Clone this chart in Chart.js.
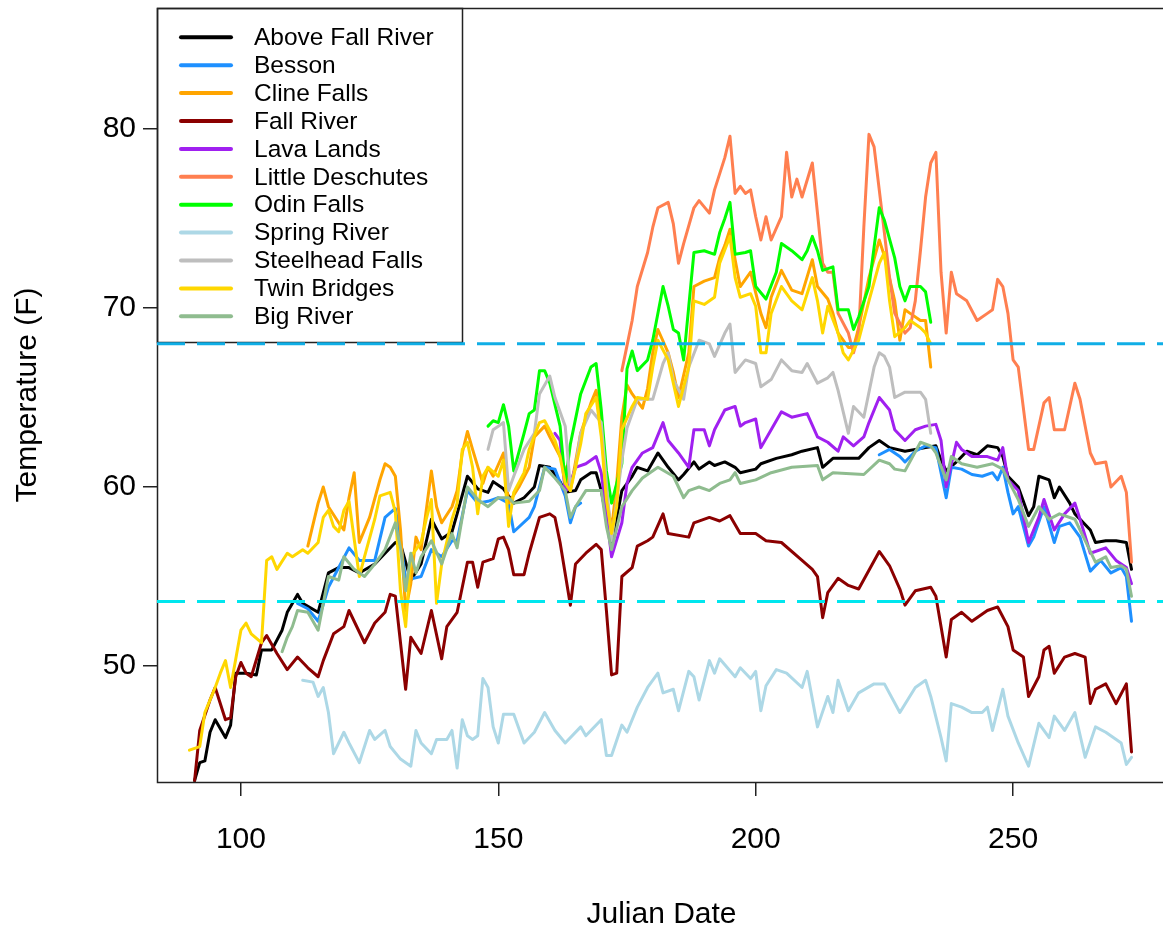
<!DOCTYPE html>
<html>
<head>
<meta charset="utf-8">
<title>Water temperature by site</title>
<script src="https://cdn.jsdelivr.net/npm/chart.js@4.4.1/dist/chart.umd.min.js"></script>
<style>
  html, body { margin: 0; padding: 0; background: #fff; overflow: hidden; }
  canvas { display: block; }
</style>
</head>
<body>
<canvas id="tempChart" width="1166" height="930"></canvas>
<script>
// daily water temperature (F) at each site, [julian day, temp]
const aboveFallRiver = [[91,43.6],[92,44.6],[93,44.7],[94,46.3],[95,47.0],[97,46.0],[98,46.7],[99,49.6],[101,49.6],[103,49.5],[104,50.9],[106,50.9],[108,52.0],[109,53.0],[111,54.0],[112,53.5],[115,53.0],[117,55.2],[119,55.5],[121,55.5],[123,55.2],[126,55.7],[128,56.3],[130,56.9],[131,56.8],[133,54.8],[135,55.7],[137,58.2],[139,57.1],[141,57.5],[142,58.5],[144,60.6],[146,59.9],[148,59.7],[149,60.3],[151,59.9],[153,59.1],[155,59.4],[157,60.0],[158,61.2],[160,61.1],[162,60.3],[163,59.7],[165,59.8],[166,60.4],[168,60.8],[169,60.8],[170,59.8],[172,56.7],[174,59.8],[176,60.6],[177,61.1],[179,60.9],[181,61.9],[183,61.1],[185,60.4],[186,60.7],[188,61.4],[189,61.0],[191,61.4],[192,61.2],[194,61.4],[196,61.1],[197,60.8],[200,61.0],[201,61.3],[204,61.6],[207,61.8],[209,62.0],[212,62.2],[213,61.1],[215,61.6],[218,61.6],[220,61.6],[222,62.2],[224,62.6],[226,62.2],[229,62.0],[233,62.2],[235,62.3],[236,61.5],[237,60.9],[239,61.4],[241,62.0],[243,61.8],[245,62.3],[247,62.2],[248,61.7],[249,60.6],[251,60.0],[253,58.4],[254,58.9],[255,60.6],[257,60.4],[258,59.4],[259,60.0],[261,59.1],[262,58.5],[265,57.6],[266,56.9],[268,57.0],[270,57.0],[272,56.9],[273,55.4]];

// Besson logger was out between mid-June and mid-August
const besson = [[111,53.5],[113,53.2],[115,52.5],[117,54.4],[119,55.5],[121,56.6],[123,55.9],[126,55.9],[128,58.3],[130,58.8],[131,57.0],[132,54.8],[135,55.0],[137,56.5],[139,56.1],[141,57.0],[142,57.0],[144,59.8],[146,59.1],[148,59.2],[150,59.4],[152,59.1],[153,57.5],[156,58.3],[157,58.9],[159,61.1],[161,61.0],[163,59.5],[164,58.0],[165,58.9],[166,59.1],[195,null],[224,61.8],[226,62.1],[228,61.7],[229,61.4],[231,62.0],[233,62.3],[235,62.2],[237,59.4],[238,61.1],[240,61.0],[242,60.7],[244,60.6],[246,60.8],[247,60.4],[248,61.1],[249,59.7],[250,58.5],[251,58.9],[253,56.7],[254,57.2],[256,58.9],[258,56.9],[259,57.8],[261,58.0],[263,57.2],[265,55.3],[267,55.9],[269,55.2],[271,55.5],[272,55.0],[273,52.5]];

const clineFalls = [[113,56.7],[115,59.1],[116,60.0],[117,58.9],[119,58.0],[120,57.6],[121,59.4],[122,60.8],[123,56.9],[125,58.3],[127,60.4],[128,61.3],[129,61.1],[130,60.6],[131,57.6],[132,53.1],[133,54.6],[134,57.2],[135,56.5],[137,60.9],[138,58.9],[139,58.0],[141,58.9],[142,59.8],[143,61.9],[144,63.1],[145,62.1],[147,60.2],[148,61.1],[149,60.6],[151,61.9],[152,59.1],[154,60.0],[156,61.1],[157,62.8],[159,63.4],[160,62.8],[162,61.7],[163,61.0],[164,59.8],[166,63.0],[168,64.7],[169,65.4],[170,63.5],[171,59.5],[172,57.6],[173,60.2],[174,63.9],[175,65.7],[176,65.2],[178,64.4],[179,65.5],[180,67.5],[181,68.8],[183,67.5],[184,66.4],[185,65.0],[187,67.5],[188,71.2],[190,71.5],[192,71.7],[193,72.8],[194,73.5],[195,74.4],[196,72.7],[197,71.2],[198,71.6],[199,72.0],[201,69.7],[202,68.9],[203,70.6],[205,72.1],[207,71.0],[209,70.8],[211,72.7],[212,71.2],[214,70.5],[215,69.7],[216,68.6],[218,67.8],[219,67.8],[220,68.9],[222,71.7],[224,73.8],[225,72.9],[227,70.4],[228,68.2],[229,69.9],[230,69.7],[232,69.3],[233,69.3],[234,66.7]];

const fallRiver = [[91,43.6],[92,46.4],[94,48.1],[95,48.8],[97,47.0],[98,47.1],[99,49.4],[100,50.2],[101,49.6],[102,49.4],[104,51.3],[105,51.7],[107,50.7],[109,49.8],[111,50.5],[113,49.9],[115,49.4],[116,50.3],[118,51.8],[120,52.2],[121,53.1],[124,51.3],[126,52.4],[128,53.0],[129,54.0],[130,53.9],[132,48.7],[133,51.6],[135,50.7],[137,53.1],[139,50.4],[140,52.2],[142,53.0],[144,55.8],[145,55.8],[146,54.4],[147,55.8],[149,56.0],[150,57.1],[151,57.2],[152,56.5],[153,55.1],[155,55.1],[156,56.3],[158,58.3],[160,58.5],[161,58.3],[162,56.9],[164,53.4],[165,55.7],[167,56.3],[169,56.8],[170,56.5],[171,53.1],[172,49.5],[173,49.6],[174,55.0],[176,55.5],[177,56.7],[179,57.0],[180,57.2],[182,58.5],[183,57.4],[187,57.2],[188,58.0],[191,58.3],[193,58.1],[195,58.4],[197,57.4],[200,57.4],[202,57.0],[205,56.9],[209,55.9],[211,55.4],[212,55.0],[213,52.7],[214,54.1],[216,54.9],[218,54.5],[220,54.3],[224,56.4],[226,55.6],[228,54.3],[229,53.4],[231,54.2],[234,54.4],[235,53.9],[237,50.5],[238,52.6],[240,53.0],[242,52.5],[245,53.1],[247,53.3],[249,52.2],[250,50.9],[252,50.5],[253,48.3],[255,49.4],[256,50.9],[257,51.1],[258,49.6],[260,50.5],[262,50.7],[264,50.5],[265,47.9],[266,48.7],[268,49.0],[270,47.9],[272,49.0],[273,45.2]];

const lavaLands = [[161,63.0],[162,62.6],[163,59.7],[164,60.2],[165,61.1],[167,61.3],[169,61.7],[170,60.8],[171,58.5],[172,56.1],[174,58.0],[175,60.2],[176,61.1],[178,61.9],[180,62.2],[182,63.6],[183,62.6],[185,61.9],[187,61.1],[188,63.2],[190,63.2],[191,62.3],[192,63.2],[194,64.3],[196,64.5],[197,63.4],[198,63.6],[200,63.8],[201,62.2],[203,63.2],[205,64.2],[207,63.9],[210,64.1],[212,62.8],[214,62.5],[216,62.0],[217,62.8],[219,62.3],[221,62.8],[222,63.6],[224,65.0],[226,64.3],[227,63.2],[229,62.6],[231,63.2],[233,63.4],[235,63.5],[236,62.6],[237,60.0],[239,62.5],[240,62.1],[242,61.7],[245,61.7],[247,61.5],[248,62.2],[249,60.4],[251,59.8],[253,56.9],[255,58.3],[256,59.3],[258,57.6],[260,58.5],[262,59.1],[263,58.2],[265,56.3],[268,56.6],[270,55.9],[272,55.5],[273,54.6]];

const littleDeschutes = [[174,66.5],[176,69.3],[177,71.2],[179,73.1],[180,74.5],[181,75.6],[183,75.9],[184,74.7],[185,72.5],[186,73.6],[188,75.6],[189,76.0],[191,75.3],[192,76.6],[194,78.4],[195,79.6],[196,76.4],[197,76.8],[198,76.4],[199,76.6],[200,75.1],[201,73.8],[202,75.1],[203,73.8],[205,75.1],[206,78.7],[207,76.2],[208,77.2],[209,76.2],[211,78.1],[212,75.3],[213,72.5],[214,72.0],[215,72.0],[216,69.7],[218,68.6],[219,67.5],[220,68.5],[221,74.5],[222,79.7],[223,79.0],[224,76.6],[225,74.2],[226,71.7],[227,69.7],[229,68.6],[230,68.9],[231,70.4],[232,73.2],[233,76.2],[234,78.1],[235,78.7],[236,72.0],[237,68.6],[238,72.0],[239,70.8],[241,70.4],[243,69.3],[245,69.7],[246,69.9],[247,71.6],[248,71.2],[249,69.7],[250,67.1],[251,66.7],[253,62.1],[254,62.1],[256,64.7],[257,65.0],[258,63.2],[260,63.2],[261,64.5],[262,65.8],[263,64.9],[265,61.9],[266,61.3],[268,61.4],[269,60.0],[271,60.6],[272,59.7],[273,55.8]];

const odinFalls = [[148,63.4],[149,63.7],[150,63.6],[151,64.6],[152,63.4],[153,60.9],[155,63.0],[156,64.1],[157,64.3],[158,66.5],[159,66.5],[160,65.8],[162,63.4],[163,60.2],[164,62.4],[166,65.2],[168,66.7],[169,66.9],[170,64.3],[171,60.9],[172,59.1],[174,61.3],[175,66.6],[176,67.6],[177,66.5],[179,67.1],[180,68.2],[182,71.2],[183,70.1],[184,68.8],[185,68.6],[186,67.1],[187,70.1],[188,73.1],[190,73.2],[192,73.0],[193,74.2],[194,75.0],[195,75.9],[196,73.0],[198,73.1],[199,73.2],[200,71.2],[202,70.5],[204,72.0],[205,73.6],[207,73.2],[209,72.7],[210,73.2],[211,74.0],[212,73.2],[213,72.1],[215,72.3],[216,69.9],[218,69.9],[219,68.8],[220,69.5],[222,71.2],[223,73.4],[224,75.6],[225,74.9],[227,72.8],[228,71.2],[229,70.4],[230,71.2],[232,71.2],[233,70.9],[234,69.2]];

const springRiver = [[112,49.2],[114,49.1],[115,48.3],[116,48.8],[117,47.4],[118,45.1],[120,46.3],[121,45.7],[123,44.6],[125,46.4],[126,45.9],[128,46.4],[129,45.5],[131,44.8],[133,44.4],[134,46.4],[135,45.7],[137,45.1],[138,45.9],[140,45.9],[141,46.4],[142,44.3],[143,47.0],[144,46.1],[145,45.9],[146,46.1],[147,49.3],[148,48.8],[149,46.6],[150,45.7],[151,47.3],[153,47.3],[155,45.7],[157,46.3],[159,47.4],[161,46.4],[163,45.7],[166,46.6],[167,46.1],[170,47.0],[171,45.0],[172,45.0],[174,46.7],[175,46.3],[177,47.7],[179,48.8],[181,49.6],[182,48.5],[184,48.7],[185,47.5],[187,49.7],[188,49.4],[189,48.1],[191,50.3],[192,49.6],[193,50.4],[196,49.4],[197,49.9],[199,49.3],[200,49.7],[201,47.5],[202,48.9],[204,49.8],[206,49.6],[209,48.8],[210,49.7],[212,46.6],[214,48.3],[215,47.4],[216,49.2],[218,47.5],[220,48.5],[223,49.0],[225,49.0],[228,47.4],[231,48.8],[233,49.2],[234,48.3],[236,46.0],[237,44.7],[238,47.9],[240,47.7],[242,47.4],[244,47.4],[245,47.7],[246,46.4],[248,48.7],[249,47.2],[251,45.7],[253,44.4],[255,46.8],[257,46.0],[258,47.2],[260,46.4],[262,47.4],[264,44.9],[266,46.6],[268,46.3],[271,45.7],[272,44.5],[273,44.9]];

const steelheadFalls = [[148,62.1],[149,63.2],[150,63.4],[151,63.6],[152,59.8],[153,60.6],[155,62.1],[157,63.0],[158,65.2],[160,66.2],[161,65.0],[163,63.4],[164,60.0],[165,61.1],[166,63.0],[168,64.3],[170,63.6],[171,60.2],[172,57.0],[174,61.5],[175,63.3],[177,64.9],[180,64.9],[182,66.9],[183,67.5],[184,66.0],[186,64.9],[187,66.7],[189,68.2],[191,68.0],[192,67.3],[194,68.6],[195,69.1],[196,66.4],[198,67.1],[200,66.9],[201,65.6],[203,66.0],[205,67.1],[207,66.5],[209,66.4],[210,66.9],[212,65.8],[214,66.1],[215,66.4],[216,65.4],[218,63.0],[219,64.5],[221,63.9],[223,66.7],[224,67.5],[225,67.3],[226,66.7],[227,65.0],[229,65.3],[231,65.3],[232,65.3],[233,64.9],[234,63.0]];

const twinBridges = [[90,45.3],[92,45.5],[93,47.4],[95,48.8],[96,49.6],[97,50.3],[98,48.8],[100,52.0],[101,52.4],[102,51.8],[104,51.3],[105,55.9],[106,56.1],[107,55.4],[109,56.3],[110,56.1],[112,56.5],[113,56.3],[115,56.9],[116,58.3],[117,58.7],[118,57.8],[119,57.5],[120,58.7],[121,59.2],[123,55.0],[124,56.1],[126,58.2],[127,59.5],[129,59.7],[130,58.6],[131,54.2],[132,52.2],[133,56.1],[135,56.9],[136,58.2],[137,59.3],[138,53.5],[139,55.7],[141,58.2],[142,59.1],[143,62.1],[144,62.5],[145,61.1],[146,58.5],[147,60.6],[148,61.1],[150,60.6],[151,61.5],[152,57.8],[153,59.7],[155,60.8],[156,62.1],[158,63.6],[159,63.7],[161,62.6],[162,61.7],[163,60.2],[164,59.8],[166,62.4],[167,64.1],[169,65.0],[170,62.8],[171,59.3],[172,57.4],[173,58.9],[174,63.2],[176,64.5],[177,65.0],[179,64.9],[180,66.7],[181,68.2],[183,67.1],[184,65.8],[185,64.5],[187,66.7],[188,70.4],[190,70.2],[192,70.6],[193,72.5],[195,74.0],[196,71.7],[197,70.6],[199,70.8],[200,70.1],[201,67.5],[202,67.5],[203,69.7],[205,71.2],[207,70.4],[209,69.9],[211,71.7],[212,70.4],[213,68.6],[214,70.1],[216,68.6],[217,67.5],[218,67.1],[220,68.2],[222,70.4],[224,72.5],[225,73.1],[226,70.4],[227,68.4],[229,68.9],[230,69.3],[232,68.9],[233,68.6],[234,68.0]];

const bigRiver = [[108,50.8],[109,51.6],[110,52.2],[111,53.1],[113,53.0],[115,52.0],[116,53.5],[117,55.0],[119,54.8],[120,56.1],[122,55.4],[124,55.0],[126,55.7],[128,56.5],[130,58.0],[131,56.6],[132,54.2],[133,56.3],[134,55.2],[135,56.1],[137,57.0],[139,55.7],[141,57.4],[142,56.6],[144,60.0],[146,59.3],[148,58.9],[150,59.4],[152,59.4],[153,59.1],[156,59.2],[158,59.8],[159,61.1],[161,60.5],[163,59.8],[164,58.3],[165,58.9],[167,59.8],[170,59.8],[171,57.8],[172,56.5],[174,58.9],[176,59.8],[178,60.5],[181,61.1],[184,60.6],[186,59.4],[187,59.8],[189,60.0],[191,59.8],[193,60.2],[195,60.4],[196,60.8],[197,60.2],[200,60.4],[203,60.8],[207,61.1],[212,61.2],[213,60.4],[215,60.8],[221,60.7],[224,61.5],[226,61.3],[227,61.0],[229,60.9],[232,62.5],[234,62.3],[235,61.9],[237,60.4],[238,61.7],[240,61.3],[243,61.1],[246,61.3],[248,61.0],[249,60.4],[251,59.3],[253,57.8],[255,58.9],[257,58.2],[259,58.5],[262,58.2],[264,57.0],[266,55.8],[268,56.1],[269,55.5],[271,55.6],[272,55.4],[273,53.9]];

const siteNames = ['Above Fall River', 'Besson', 'Cline Falls', 'Fall River', 'Lava Lands', 'Little Deschutes',
  'Odin Falls', 'Spring River', 'Steelhead Falls', 'Twin Bridges', 'Big River'];
const siteSeries = [aboveFallRiver, besson, clineFalls, fallRiver, lavaLands, littleDeschutes,
  odinFalls, springRiver, steelheadFalls, twinBridges, bigRiver];
const siteColors = ['#000000', '#1E90FF', '#FFA500', '#8B0000', '#A020F0', '#FF7F50',
  '#00FF00', '#ADD8E6', '#BEBEBE', '#FFD700', '#8FBC8F'];

const xTicks = [100, 150, 200, 250];
const yTicks = [50, 60, 70, 80];
// temperature criteria lines: 20 C and 12 C
const upperCriterion = 68.0;
const lowerCriterion = 53.6;

const FONT = "'Liberation Sans', Arial, sans-serif";

// sites later in the list sit on top, like successive lines() calls
const datasets = siteSeries.map((series, i) => ({
  label: siteNames[i],
  data: series.map(([d, t]) => ({ x: d, y: t })),
  borderColor: siteColors[i],
  backgroundColor: siteColors[i],
  borderWidth: 3,
  pointRadius: 0,
  tension: 0,
  spanGaps: false,
  borderCapStyle: 'round',
  borderJoinStyle: 'round',
  order: siteSeries.length - i
}));

// legend box in the top left corner of the plot
const boxLegend = {
  id: 'boxLegend',
  afterDatasetsDraw(chart) {
    const ctx = chart.ctx;
    const area = chart.chartArea;
    ctx.save();
    ctx.fillStyle = '#fff';
    ctx.fillRect(area.left, area.top, 305, 334);
    ctx.strokeStyle = '#222';
    ctx.lineWidth = 1.5;
    ctx.strokeRect(area.left + 0.5, area.top + 0.5, 305, 334);
    ctx.font = '24.5px ' + FONT;
    ctx.textBaseline = 'middle';
    ctx.textAlign = 'left';
    siteNames.forEach((name, i) => {
      const y = area.top + 29.3 + i * 27.9;
      ctx.strokeStyle = siteColors[i];
      ctx.lineWidth = 4;
      ctx.lineCap = 'round';
      ctx.beginPath();
      ctx.moveTo(area.left + 24, y);
      ctx.lineTo(area.left + 74, y);
      ctx.stroke();
      ctx.fillStyle = '#000';
      ctx.fillText(name, area.left + 97, y + 1);
    });
    ctx.restore();
  }
};

// plot frame plus the two dashed criteria lines
const frameAndCriteria = {
  id: 'frameAndCriteria',
  afterDraw(chart) {
    const ctx = chart.ctx;
    const area = chart.chartArea;
    const yScale = chart.scales.y;
    ctx.save();
    ctx.strokeStyle = '#222';
    ctx.lineWidth = 1.5;
    ctx.strokeRect(area.left + 0.5, area.top + 0.5, area.right - area.left, area.bottom - area.top);

    ctx.lineWidth = 3;
    ctx.setLineDash([28, 12]);
    [[upperCriterion, '#10AEE6'], [lowerCriterion, '#00E6EE']].forEach(([v, c]) => {
      const y = yScale.getPixelForValue(v);
      ctx.strokeStyle = c;
      ctx.beginPath();
      ctx.moveTo(area.left, y);
      ctx.lineTo(area.right, y);
      ctx.stroke();
    });
    ctx.restore();
  }
};

const tickFont = { family: FONT, size: 30 };
const titleFont = { family: FONT, size: 30, lineHeight: 1 };

new Chart(document.getElementById('tempChart'), {
  type: 'line',
  data: { datasets: datasets },
  options: {
    responsive: false,
    animation: false,
    devicePixelRatio: 1,
    layout: { padding: { top: 8, left: 0, right: 0, bottom: 0 } },
    plugins: {
      legend: { display: false },
      tooltip: { enabled: false }
    },
    scales: {
      x: {
        type: 'linear',
        min: 83.7,
        max: 279.7,
        afterBuildTicks: (scale) => { scale.ticks = xTicks.map(v => ({ value: v })); },
        afterFit: (scale) => {
          scale.height = 148;
          scale.paddingLeft = 0;
          scale.paddingRight = 0;
        },
        border: { display: false },
        grid: { drawOnChartArea: false, drawTicks: true, tickLength: 14, color: '#222', lineWidth: 1.5 },
        ticks: { color: '#000', font: tickFont, padding: 26, maxRotation: 0, autoSkip: false },
        title: { display: true, text: 'Julian Date', color: '#000', font: titleFont, padding: { top: 0, bottom: 0 } }
      },
      y: {
        min: 43.52,
        max: 86.76,
        afterBuildTicks: (scale) => { scale.ticks = yTicks.map(v => ({ value: v })); },
        afterFit: (scale) => {
          scale.width = 157;
          scale.paddingTop = 0;
          scale.paddingBottom = 0;
        },
        border: { display: false },
        grid: { drawOnChartArea: false, drawTicks: true, tickLength: 14, color: '#222', lineWidth: 1.5 },
        ticks: { color: '#000', font: tickFont, padding: 7 },
        title: { display: true, text: 'Temperature (F)', color: '#000', font: titleFont, padding: { top: 13, bottom: 0 } }
      }
    }
  },
  plugins: [boxLegend, frameAndCriteria]
});
</script>
</body>
</html>
